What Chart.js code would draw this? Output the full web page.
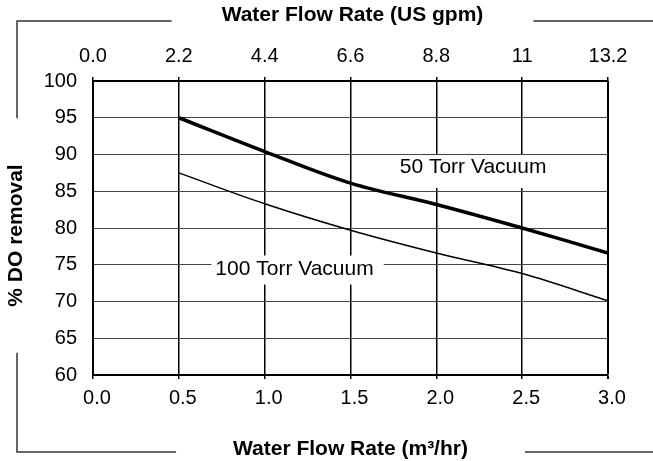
<!DOCTYPE html>
<html>
<head>
<meta charset="utf-8">
<script src="https://cdn.jsdelivr.net/npm/chart.js@4.4.0/dist/chart.umd.min.js"></script>
<style>
  html, body { margin: 0; padding: 0; background: #fff; }
  #wrap { width: 653px; height: 461px; }
</style>
</head>
<body>
<div id="wrap"><canvas id="chart1"></canvas></div>
<script>
// water flow rate, m3/hr (bottom axis)
const flowM3 = [0.5, 1.0, 1.5, 2.0, 2.5, 3.0];
// % DO removal
const torr50 = [95.0, 90.4, 86.1, 83.2, 80.0, 76.6];
const torr100 = [87.5, 83.3, 79.7, 76.6, 73.8, 70.1];

const bottomTicks = ["0.0", "0.5", "1.0", "1.5", "2.0", "2.5", "3.0"];
const topTicks = ["0.0", "2.2", "4.4", "6.6", "8.8", "11", "13.2"];

const topTitle = "Water Flow Rate (US gpm)";
const bottomTitle = "Water Flow Rate (m\u00B3/hr)";
const yTitle = "% DO removal";

const family = "'Liberation Sans', Arial, sans-serif";

// text labels sitting on the curves, white box behind them
const curveLabels = [
    {text: "50 Torr Vacuum", x: 2.214, y: 88.3, pad: [4, 12, 4, 21]},
    {text: "100 Torr Vacuum", x: 1.174, y: 74.35, pad: [4, 14, 10, 15]}
];

function toPoints(xs, ys) {
    return xs.map((x, i) => ({x: x, y: ys[i]}));
}

const labelPlugin = {
    id: "curveLabels",
    beforeDatasetsDraw(chart) {
        const ctx = chart.ctx;
        const sx = chart.scales.x, sy = chart.scales.y;
        ctx.save();
        ctx.font = "21px " + family;
        ctx.textAlign = "center";
        ctx.textBaseline = "middle";
        for (let l of curveLabels) {
            const px = sx.getPixelForValue(l.x);
            const py = sy.getPixelForValue(l.y);
            const w = ctx.measureText(l.text).width;
            ctx.fillStyle = "#fff";
            ctx.fillRect(px - w / 2 - l.pad[0], py - l.pad[1], w + l.pad[0] + l.pad[2], l.pad[1] + l.pad[3]);
            ctx.fillStyle = "#000";
            ctx.fillText(l.text, px, py);
        }
        ctx.restore();
    }
};

// outer frame with the axis titles sitting in gaps
const framePlugin = {
    id: "frame",
    afterDraw(chart) {
        const ctx = chart.ctx;
        const area = chart.chartArea;
        const mid = (area.left + area.right) / 2;
        const fx = 17, fTop = 21, fBottom = 452, fRight = chart.width;
        ctx.save();
        ctx.font = "bold 21px " + family;
        const wTop = ctx.measureText(topTitle).width / 2 + 50;
        const wBottom = ctx.measureText(bottomTitle).width / 2 + 57;
        const wLeft = ctx.measureText(yTitle).width / 2 + 46;
        const yMid = 235.5;

        ctx.strokeStyle = "#333";
        ctx.lineWidth = 1.5;
        ctx.beginPath();
        ctx.moveTo(mid + 2 - wTop, fTop);
        ctx.lineTo(fx, fTop);
        ctx.lineTo(fx, yMid - wLeft);
        ctx.moveTo(mid + 2 + wTop, fTop);
        ctx.lineTo(fRight, fTop);
        ctx.moveTo(fx, yMid + wLeft);
        ctx.lineTo(fx, fBottom);
        ctx.lineTo(mid - wBottom, fBottom);
        ctx.moveTo(mid + wBottom, fBottom);
        ctx.lineTo(fRight, fBottom);
        ctx.stroke();

        ctx.fillStyle = "#000";
        ctx.textAlign = "center";
        ctx.textBaseline = "middle";
        ctx.fillText(topTitle, mid + 2, 15);
        ctx.fillText(bottomTitle, mid, 449);
        ctx.translate(16, yMid);
        ctx.rotate(-Math.PI / 2);
        ctx.fillText(yTitle, 0, 0);
        ctx.restore();
    }
};

const tickFont = {family: family, size: 20};

new Chart("chart1", {
    type: "line",
    data: {
        datasets: [{
            label: "50 Torr Vacuum",
            data: toPoints(flowM3, torr50),
            borderColor: "#000",
            borderWidth: 3.5,
            pointRadius: 0,
            tension: 0.35
        }, {
            label: "100 Torr Vacuum",
            data: toPoints(flowM3, torr100),
            borderColor: "#000",
            borderWidth: 1.5,
            pointRadius: 0,
            tension: 0.35
        }]
    },
    options: {
        responsive: true,
        maintainAspectRatio: false,
        animation: false,
        layout: {padding: {left: 0, right: 45, top: 0, bottom: 0}},
        plugins: {
            legend: {display: false},
            tooltip: {enabled: false}
        },
        scales: {
            x: {
                type: "linear",
                position: "bottom",
                min: 0,
                max: 3,
                afterBuildTicks: s => { s.ticks = bottomTicks.map(t => ({value: parseFloat(t)})); },
                afterFit: s => { s.height = 86; },
                ticks: {
                    callback: (v, i) => bottomTicks[i],
                    font: tickFont,
                    color: "#000",
                    padding: 7,
                    labelOffset: 4,
                    maxRotation: 0,
                    autoSkip: false
                },
                grid: {
                    color: "#000",
                    lineWidth: c => (c.tick && c.tick.value === 3 ? 2 : 1.5),
                    tickLength: 4
                },
                border: {color: "#000", width: 2}
            },
            xTop: {
                type: "linear",
                position: "top",
                min: 0,
                max: 3,
                afterBuildTicks: s => { s.ticks = topTicks.map((t, i) => ({value: parseFloat(bottomTicks[i])})); },
                afterFit: s => { s.height = 81; },
                ticks: {
                    callback: (v, i) => topTicks[i],
                    font: tickFont,
                    color: "#000",
                    padding: 9,
                    maxRotation: 0,
                    autoSkip: false
                },
                grid: {
                    drawOnChartArea: false,
                    color: "#000",
                    lineWidth: 1.5,
                    tickLength: 4
                },
                border: {color: "#000", width: 2}
            },
            y: {
                min: 60,
                max: 100,
                afterFit: s => { s.width = 93; },
                ticks: {
                    stepSize: 5,
                    font: tickFont,
                    color: "#000",
                    padding: 16
                },
                grid: {
                    color: "#444",
                    lineWidth: 1,
                    drawTicks: false
                },
                border: {color: "#000", width: 2}
            }
        }
    },
    plugins: [labelPlugin, framePlugin]
});
</script>
</body>
</html>
